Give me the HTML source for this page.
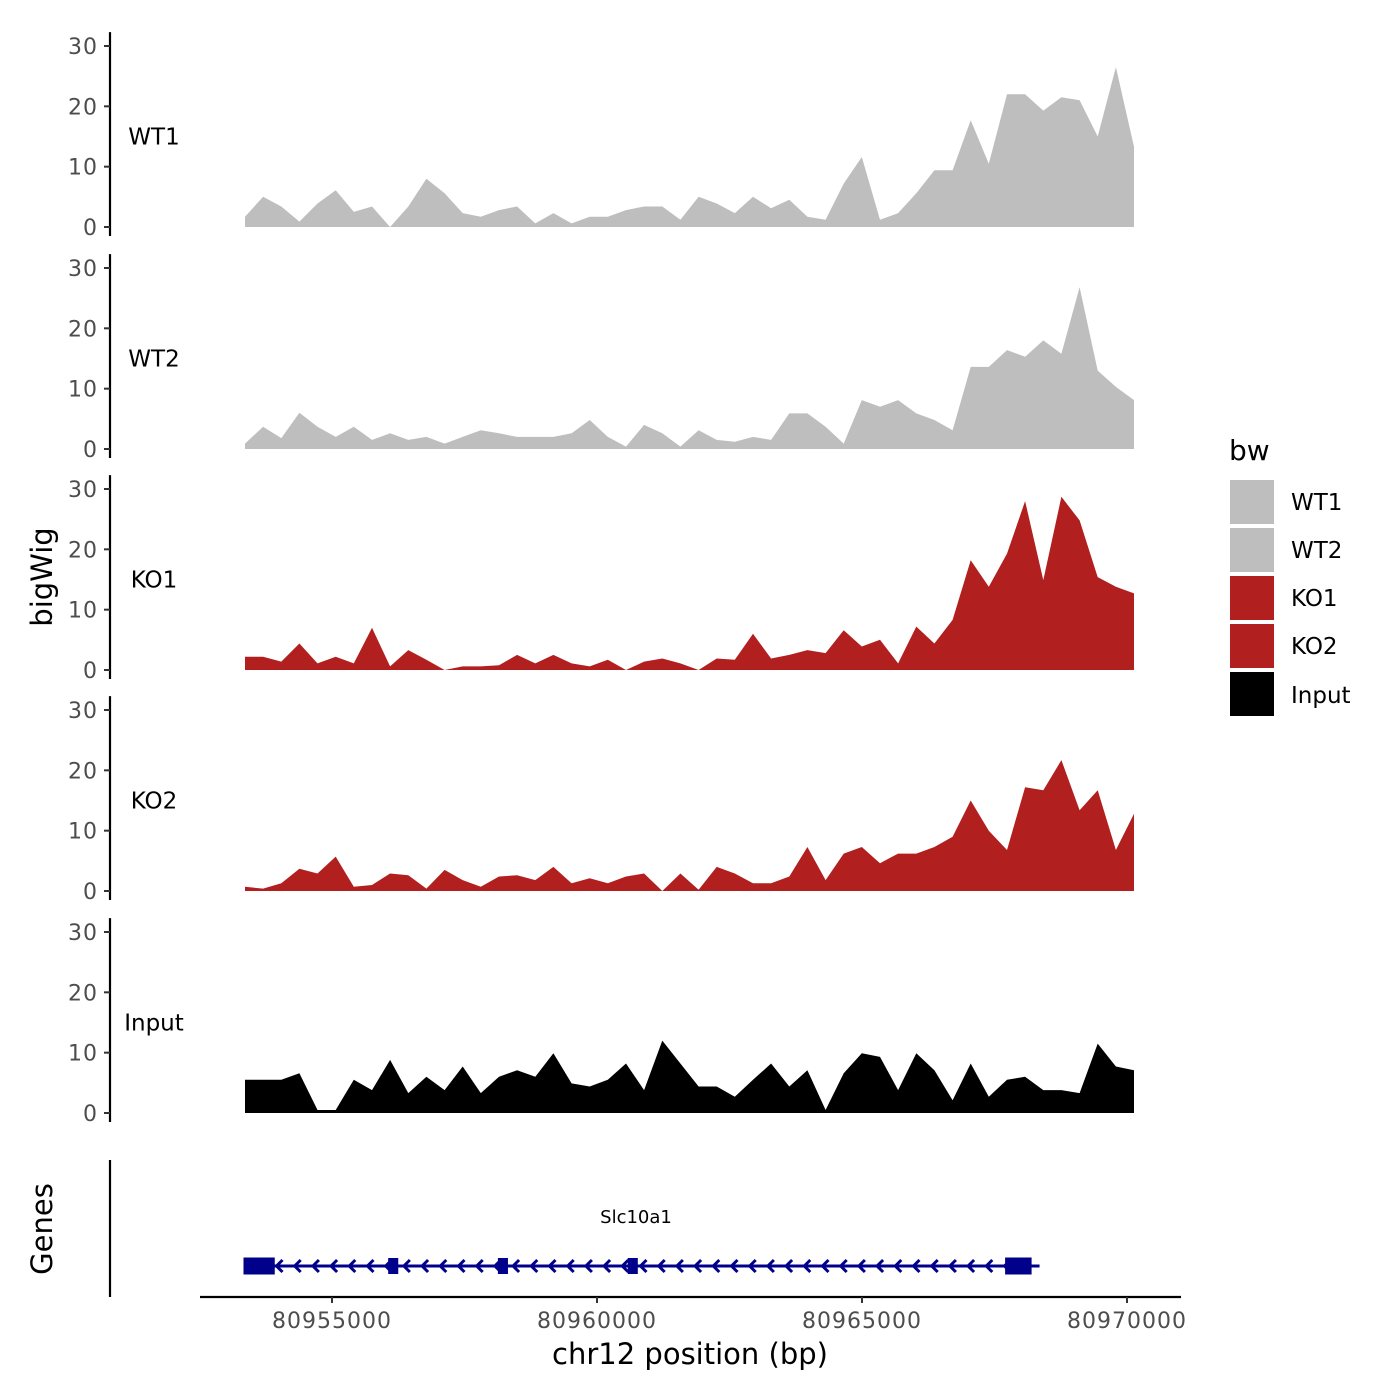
<!DOCTYPE html>
<html><head><meta charset="utf-8"><style>
html,body{margin:0;padding:0;background:#fff;}
svg{display:block;font-family:"DejaVu Sans","Liberation Sans",sans-serif;}
</style></head><body>
<svg id="chart" width="1400" height="1400" viewBox="0 0 1400 1400" xmlns="http://www.w3.org/2000/svg">
<rect width="1400" height="1400" fill="#fff"/>
<g id="tracks"></g>
<g id="genes"></g>
<g id="axes"></g>
<text x="52" y="577" font-size="29" text-anchor="middle" transform="rotate(-90 52 577)">bigWig</text>
<text x="52" y="1229" font-size="29" text-anchor="middle" transform="rotate(-90 52 1229)">Genes</text>
<text x="690" y="1364" font-size="29" text-anchor="middle">chr12 position (bp)</text>
<g>
<text x="1229" y="460" font-size="28">bw</text>
<rect x="1230" y="480" width="44" height="44" fill="#bebebe"/>
<rect x="1230" y="528" width="44" height="44" fill="#bebebe"/>
<rect x="1230" y="576" width="44" height="44" fill="#b21f1f"/>
<rect x="1230" y="624" width="44" height="44" fill="#b21f1f"/>
<rect x="1230" y="672" width="44" height="44" fill="#000"/>
<text x="1291" y="510" font-size="23">WT1</text>
<text x="1291" y="558" font-size="23">WT2</text>
<text x="1291" y="606" font-size="23">KO1</text>
<text x="1291" y="654" font-size="23">KO2</text>
<text x="1291" y="703" font-size="23">Input</text>
</g>
</svg>
<script>
const trackNames = ["WT1","WT2","KO1","KO2","Input"];
const trackColors = ["#bebebe","#bebebe","#b21f1f","#b21f1f","#000000"];
const binStart = 80953358;
const binEnd = 80970132;
const wt1 = [1.7,5,3.4,0.9,3.9,6.1,2.5,3.4,0,3.4,8,5.6,2.3,1.7,2.8,3.4,0.6,2.3,0.6,1.7,1.7,2.8,3.4,3.4,1.2,5,3.9,2.3,5,3.1,4.5,1.7,1.2,7.2,11.6,1.2,2.3,5.6,9.4,9.4,17.7,10.5,22,22,19.3,21.5,21,15,26.5,13.3];
const wt2 = [0.9,3.7,1.8,6,3.7,2,3.7,1.5,2.6,1.5,2,0.9,2,3.1,2.6,2,2,2,2.6,4.8,2,0.4,4,2.6,0.4,3.1,1.5,1.2,2,1.5,5.9,5.9,3.7,0.9,8.1,7,8.1,5.9,4.8,3.1,13.6,13.6,16.4,15.3,18,15.8,26.8,13,10.3,8.1];
const ko1 = [2.2,2.2,1.4,4.4,1.1,2.2,1.1,7,0.6,3.3,1.7,0,0.6,0.6,0.8,2.5,1.1,2.5,1.1,0.6,1.7,0,1.4,1.9,1.1,0,1.9,1.7,6,1.9,2.5,3.3,2.8,6.6,3.9,5,1.1,7.2,4.4,8.3,18.2,13.8,19.3,28,14.9,28.7,24.8,15.4,13.8,12.7];
const ko2 = [0.7,0.4,1.3,3.7,2.9,5.7,0.7,1,2.9,2.6,0.4,3.5,1.8,0.7,2.4,2.6,1.8,4,1.3,2.1,1.3,2.4,2.9,0,2.9,0.2,4,2.9,1.3,1.3,2.4,7.3,1.8,6.2,7.3,4.6,6.2,6.2,7.3,9,15,10,6.8,17.2,16.7,21.7,13.4,16.7,6.8,12.8];
const input = [5.5,5.5,5.5,6.6,0.5,0.5,5.5,3.8,8.8,3.3,6,3.8,7.7,3.3,6,7.1,6,9.9,4.9,4.4,5.5,8.2,3.8,12,8.2,4.4,4.4,2.7,5.5,8.2,4.4,7.1,0.5,6.6,9.9,9.3,3.8,9.9,7.1,2.1,8.2,2.7,5.5,6,3.8,3.8,3.3,11.5,7.7,7.1];
const yTicks = [0,10,20,30];
const xTicks = [80955000,80960000,80965000,80970000];
const xTickLabels = ["80955000","80960000","80965000","80970000"];
const exons = [[80953330,80953920],[80956060,80956250],[80958130,80958320],[80960580,80960770],[80967700,80968200]];
const geneStart = 80953330, geneEnd = 80968350;
const geneLabel = "Slc10a1";

const NS="http://www.w3.org/2000/svg";
function X(bp){return 332+(bp-80955000)*265/5000;}
const baselines=[227,449,670,891,1113];
function Y(v,k){return baselines[k]-v*181/30;}
function mk(tag,attrs,parent){const e=document.createElementNS(NS,tag);for(const a in attrs)e.setAttribute(a,attrs[a]);parent.appendChild(e);return e;}
const series=[wt1,wt2,ko1,ko2,input];
const tg=document.getElementById('tracks');
const ax=document.getElementById('axes');
series.forEach((vals,k)=>{
  const n=vals.length, step=(binEnd-binStart)/(n-1);
  let d="M"+X(binStart).toFixed(1)+","+baselines[k];
  vals.forEach((v,i)=>{const bp=binStart+i*step;d+="L"+X(bp).toFixed(1)+","+Y(v,k).toFixed(1);});
  d+="L"+X(binEnd).toFixed(1)+","+baselines[k]+"Z";
  const p=mk('path',{d:d,fill:trackColors[k]},tg);
  
  
  const lbl=mk('text',{x:154,y:Y(15,k)+8,'font-size':23,'text-anchor':'middle'},tg);
  lbl.textContent=trackNames[k];
  
  
  const yl=mk('line',{x1:110,x2:110,y1:Y(32.3,k),y2:Y(-1.5,k),stroke:'#000','stroke-width':2.2},ax);
  
  
  yTicks.forEach(t=>{
    const tl=mk('line',{x1:104,x2:110,y1:Y(t,k),y2:Y(t,k),stroke:'#333','stroke-width':2},ax);
    
    
    const tx=mk('text',{x:98,y:Y(t,k)+8,'font-size':22,'text-anchor':'end',fill:'#4d4d4d','letter-spacing':1},ax);
    tx.textContent=t;
    
    
  });
});
const gg=document.getElementById('genes');
const gy=1266;
const gl=mk('line',{x1:X(geneStart),x2:X(geneEnd),y1:gy,y2:gy,stroke:'#00008b','stroke-width':3},gg);


for(let x=X(geneStart)+35;x<X(geneEnd)-5;x+=18.2){
  const c=mk('polyline',{points:(x+4)+","+(gy-6)+" "+(x-2)+","+gy+" "+(x+4)+","+(gy+6),fill:'none',stroke:'#00008b','stroke-width':3},gg);
  
  
}
exons.forEach(e=>{
  const big=(e[1]-e[0])>400;
  const r=mk('rect',{x:X(e[0]),y:big?gy-8.5:gy-8,width:X(e[1])-X(e[0]),height:big?17:16,fill:'#00008b'},gg);
  
  
});
const gt=mk('text',{x:636,y:1223,'font-size':18,'text-anchor':'middle'},gg);
gt.textContent=geneLabel;


const gyax=mk('line',{x1:110,x2:110,y1:1160,y2:1297,stroke:'#000','stroke-width':2.2},ax);


const xl=mk('line',{x1:200,x2:1181,y1:1297,y2:1297,stroke:'#000','stroke-width':2.2},ax);


xTicks.forEach((t,i)=>{
  const tl=mk('line',{x1:X(t),x2:X(t),y1:1297,y2:1303,stroke:'#333','stroke-width':2},ax);
  
  
  const tx=mk('text',{x:X(t),y:1328,'font-size':22,'text-anchor':'middle',fill:'#4d4d4d','letter-spacing':1},ax);
  tx.textContent=xTickLabels[i];
  
  
});
</script>
</body></html>
